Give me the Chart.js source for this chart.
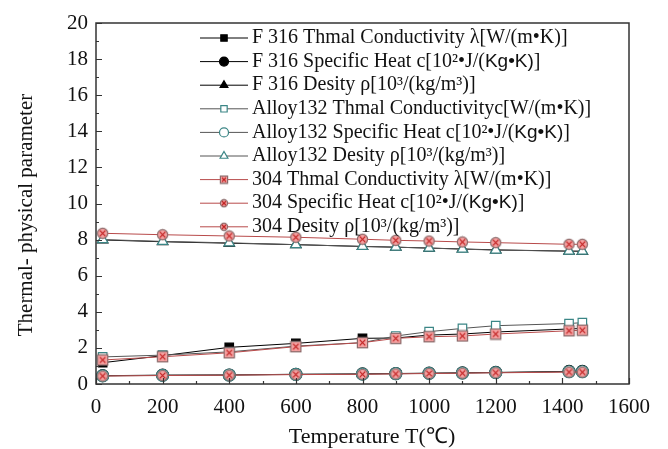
<!DOCTYPE html>
<html lang="en">
<head>
<meta charset="UTF-8">
<title>Thermal-physical parameter</title>
<script src="https://cdn.jsdelivr.net/npm/chart.js"></script>
<style>
  html, body { margin: 0; padding: 0; background: #fff; }
  #wrap { width: 668px; height: 449px; }
</style>
</head>
<body>
<div id="wrap"><canvas id="chart" width="668" height="449"></canvas></div>
<script>
// values
const temps = [20, 200, 400, 600, 800, 900, 1000, 1100, 1200, 1420, 1460];
const f316Cond  = [1.18, 1.57, 2.03, 2.25, 2.53, 2.55, 2.71, 2.77, 2.88, 3.05, 3.08];
const f316Heat  = [0.46, 0.49, 0.50, 0.54, 0.56, 0.58, 0.60, 0.62, 0.64, 0.70, 0.70];
const f316Dens  = [7.98, 7.88, 7.80, 7.72, 7.62, 7.58, 7.53, 7.48, 7.43, 7.36, 7.35];
const alloyCond = [1.50, 1.60, 1.78, 2.10, 2.29, 2.66, 2.90, 3.08, 3.23, 3.35, 3.40];
const alloyHeat = [0.45, 0.48, 0.50, 0.53, 0.55, 0.57, 0.59, 0.61, 0.63, 0.68, 0.68];
const alloyDens = [8.00, 7.90, 7.82, 7.72, 7.62, 7.58, 7.53, 7.47, 7.42, 7.36, 7.36];
const s304Cond  = [1.33, 1.51, 1.73, 2.07, 2.29, 2.53, 2.62, 2.66, 2.77, 2.95, 2.98];
const s304Heat  = [0.44, 0.47, 0.49, 0.52, 0.54, 0.56, 0.58, 0.60, 0.62, 0.66, 0.66];
const s304Dens  = [8.35, 8.27, 8.20, 8.13, 8.02, 7.96, 7.92, 7.87, 7.83, 7.74, 7.74];

const labels = [
  'F 316 Thmal Conductivity λ[W/(m•K)]',
  'F 316 Specific Heat c[10²•J/(Kg•K)]',
  'F 316 Desity ρ[10³/(kg/m³)]',
  'Alloy132 Thmal Conductivityc[W/(m•K)]',
  'Alloy132 Specific Heat c[10²•J/(Kg•K)]',
  'Alloy132 Desity ρ[10³/(kg/m³)]',
  '304 Thmal Conductivity λ[W/(m•K)]',
  '304 Specific Heat c[10²•J/(Kg•K)]',
  '304 Desity ρ[10³/(kg/m³)]'
];
const xTicks = [0, 200, 400, 600, 800, 1000, 1200, 1400, 1600];
const yTicks = [0, 2, 4, 6, 8, 10, 12, 14, 16, 18, 20];
const xTitle = 'Temperature T(℃)';
const yTitle = 'Thermal- physical parameter';

const SERIF = "'Liberation Serif', 'Times New Roman', serif";
const SANS = "'Liberation Sans', Arial, sans-serif";
const TEAL = '#3b8686';
const RED = '#b84a4a';

// 304 markers: boxed / circled cross
function marker304(kind, size) {
  const c = document.createElement('canvas');
  c.width = size; c.height = size;
  const g = c.getContext('2d');
  const m = size / 2, r = size / 2 - 1.4, k = r * 0.55;
  g.lineWidth = 1.2;
  g.strokeStyle = '#8a6a6a';
  g.fillStyle = '#f4a0a0';
  g.beginPath();
  if (kind === 'box') g.rect(m - r, m - r, 2 * r, 2 * r);
  else g.arc(m, m, r, 0, Math.PI * 2);
  g.fill(); g.stroke();
  g.strokeStyle = '#c02020';
  g.beginPath();
  g.moveTo(m - k, m - k); g.lineTo(m + k, m + k);
  g.moveTo(m + k, m - k); g.lineTo(m - k, m + k);
  g.stroke();
  return c;
}
const boxX = marker304('box', 13);
const circX = marker304('circle', 13);
const boxXs = marker304('box', 10);
const circXs = marker304('circle', 10);

function pts(ys) { return temps.map((t, i) => ({ x: t, y: ys[i] })); }

const series = [
  { data: f316Cond, color: '#000', fill: '#000', style: 'rect', order: 3 },
  { data: f316Heat, color: '#000', fill: '#000', style: 'circle', order: 3 },
  { data: f316Dens, color: '#000', fill: '#000', style: 'triangle', order: 3 },
  { data: alloyCond, color: '#555', pcolor: TEAL, fill: '#fff', style: 'rect', order: 2 },
  { data: alloyHeat, color: '#555', pcolor: TEAL, fill: '#fff', style: 'circle', order: 2 },
  { data: alloyDens, color: '#555', pcolor: TEAL, fill: '#fff', style: 'triangle', order: 2 },
  { data: s304Cond, color: RED, pcolor: RED, fill: '#f4a0a0', style: boxX, small: boxXs, order: 1 },
  { data: s304Heat, color: RED, pcolor: RED, fill: '#f4a0a0', style: circX, small: circXs, order: 1 },
  { data: s304Dens, color: RED, pcolor: RED, fill: '#f4a0a0', style: circX, small: circXs, order: 1 }
];

const datasets = series.map((s, i) => ({
  label: labels[i],
  data: pts(s.data),
  borderColor: s.color,
  borderWidth: 1,
  pointStyle: s.style,
  legendStyle: s.small || s.style,
  pointRadius: 6,
  pointBorderWidth: 1.2,
  pointBorderColor: s.pcolor || s.color,
  pointBackgroundColor: s.fill,
  tension: 0,
  order: s.order
}));

// axes box with inward ticks, plus the two axis titles
const framePlugin = {
  id: 'frame',
  afterDraw(chart) {
    const { ctx, chartArea: a, scales } = chart;
    ctx.save();
    ctx.strokeStyle = '#333';
    ctx.lineWidth = 1.5;
    ctx.strokeRect(a.left, a.top, a.right - a.left, a.bottom - a.top);
    ctx.lineWidth = 1.2;
    ctx.beginPath();
    for (let v = 0; v <= 1600; v += 100) {
      const x = Math.round(scales.x.getPixelForValue(v)) + 0.5;
      const len = v % 200 === 0 ? 6 : 3;
      ctx.moveTo(x, a.bottom); ctx.lineTo(x, a.bottom - len);
    }
    for (let v = 0; v <= 20; v += 1) {
      const y = Math.round(scales.y.getPixelForValue(v)) + 0.5;
      const len = v % 2 === 0 ? 6 : 3;
      ctx.moveTo(a.left, y); ctx.lineTo(a.left + len, y);
    }
    ctx.stroke();

    ctx.fillStyle = '#111';
    ctx.textAlign = 'center';
    ctx.textBaseline = 'middle';
    ctx.font = '22px ' + SERIF;
    ctx.fillText(xTitle, 372, 437);
    ctx.translate(26, 215);
    ctx.rotate(-Math.PI / 2);
    ctx.font = '21px ' + SERIF;
    ctx.fillText(yTitle, 0, 0);
    ctx.restore();
  }
};

// legend drawn inside the plot, no frame
const legendPlugin = {
  id: 'innerLegend',
  afterDraw(chart) {
    const ctx = chart.ctx;
    const x0 = 200, x1 = 248, tx = 252, y0 = 38, dy = 23.6;
    ctx.save();
    chart.data.datasets.forEach((ds, i) => {
      const y = y0 + i * dy;
      ctx.strokeStyle = ds.borderColor;
      ctx.lineWidth = 1;
      ctx.beginPath(); ctx.moveTo(x0, y); ctx.lineTo(x1, y); ctx.stroke();
      ctx.fillStyle = ds.pointBackgroundColor;
      ctx.strokeStyle = ds.pointBorderColor;
      ctx.lineWidth = 1.2;
      Chart.helpers.drawPoint(ctx, { pointStyle: ds.legendStyle, radius: 4.5, borderWidth: 1.2 }, (x0 + x1) / 2, y);
      // text, with the "Kg•K)" part in a sans face as in the original
      ctx.fillStyle = '#111';
      ctx.textBaseline = 'middle';
      let x = tx;
      const parts = ds.label.split('Kg•K)');
      parts.forEach((p, k) => {
        ctx.font = '20px ' + SERIF;
        ctx.fillText(p, x, y);
        x += ctx.measureText(p).width;
        if (k < parts.length - 1) {
          ctx.font = '19px ' + SANS;
          ctx.fillText('Kg•K)', x, y);
          x += ctx.measureText('Kg•K)').width;
        }
      });
    });
    ctx.restore();
  }
};

new Chart(document.getElementById('chart'), {
  type: 'line',
  data: { datasets },
  options: {
    responsive: false,
    animation: false,
    devicePixelRatio: 1,
    layout: { padding: { left: 0, top: 23, right: 39, bottom: 0 } },
    plugins: { legend: { display: false }, tooltip: { enabled: false } },
    scales: {
      x: {
        type: 'linear', min: 0, max: 1600,
        afterBuildTicks(s) { s.ticks = xTicks.map(v => ({ value: v })); },
        afterFit(s) { s.height = 65; },
        grid: { display: false, drawTicks: false },
        border: { display: false },
        ticks: { color: '#111', padding: 11, font: { family: SERIF, size: 21 }, callback: v => String(v) },
        title: { display: false }
      },
      y: {
        min: 0, max: 20,
        afterBuildTicks(s) { s.ticks = yTicks.map(v => ({ value: v })); },
        afterFit(s) { s.width = 96; },
        grid: { display: false, drawTicks: false },
        border: { display: false },
        ticks: { color: '#111', padding: 8, font: { family: SERIF, size: 21 }, callback: v => String(v) },
        title: { display: false }
      }
    }
  },
  plugins: [framePlugin, legendPlugin]
});
</script>
</body>
</html>
